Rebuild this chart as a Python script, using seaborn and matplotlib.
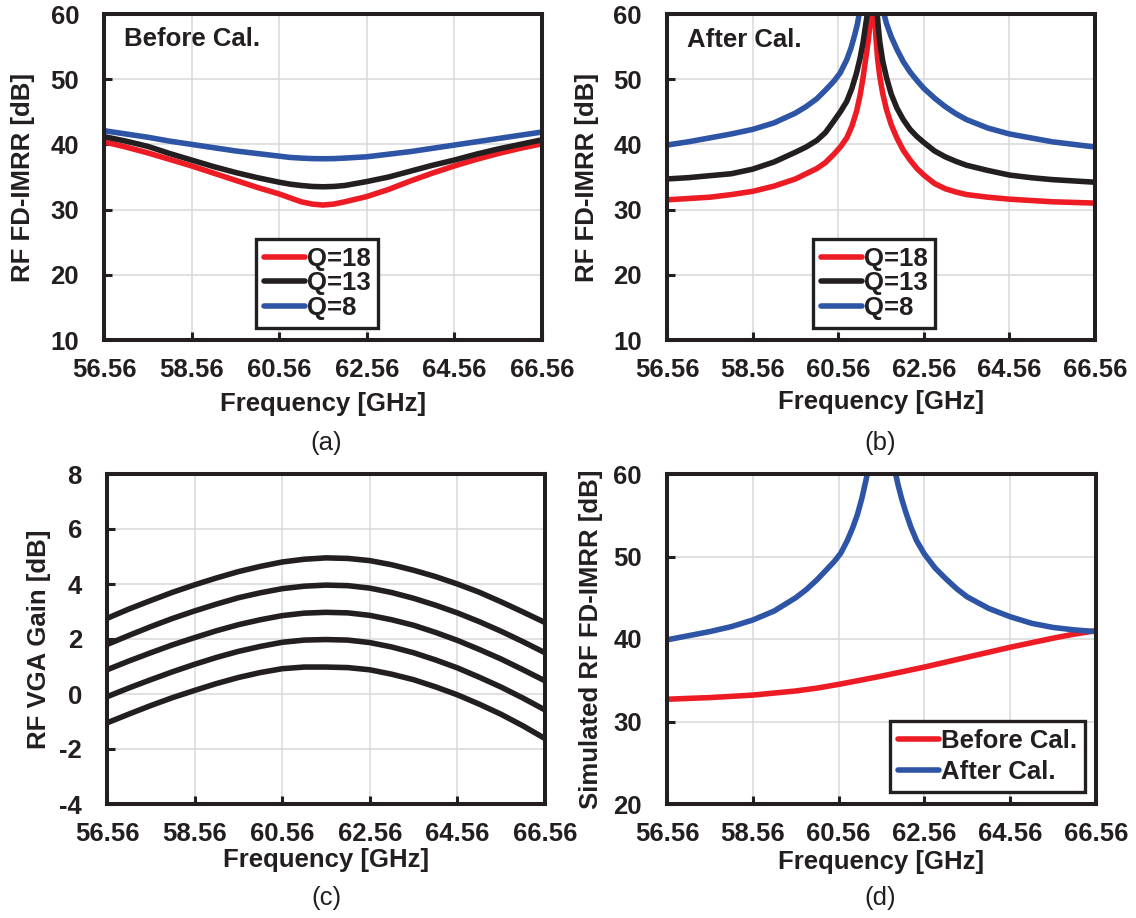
import matplotlib
matplotlib.use("Agg")
import matplotlib.pyplot as plt
import seaborn as sns
from matplotlib.ticker import FixedLocator

# ---------------------------------------------------------------- data
freq_ticks = [56.56, 58.56, 60.56, 62.56, 64.56, 66.56]
freq_tick_labels = ["56.56", "58.56", "60.56", "62.56", "64.56", "66.56"]

# (a) measured FD-IMRR before calibration
freq_a = [56.56, 57.06, 57.56, 58.06, 58.56, 59.06, 59.56, 60.06, 60.56, 60.81, 61.06, 61.31,
          61.56, 61.81, 62.06, 62.56, 63.06, 63.56, 64.06, 64.56, 65.06, 65.56, 66.06, 66.56]
imrr_a_q18 = [40.4, 39.6, 38.7, 37.7, 36.7, 35.6, 34.5, 33.4, 32.4, 31.8, 31.2, 30.85,
              30.7, 30.85, 31.2, 32.0, 33.1, 34.4, 35.6, 36.7, 37.7, 38.6, 39.4, 40.1]
imrr_a_q13 = [41.2, 40.5, 39.7, 38.6, 37.6, 36.6, 35.7, 34.9, 34.2, 33.9, 33.7, 33.55,
              33.5, 33.55, 33.7, 34.3, 35.0, 35.9, 36.8, 37.6, 38.5, 39.3, 40.0, 40.7]
imrr_a_q8 = [42.1, 41.6, 41.1, 40.5, 40.0, 39.5, 39.0, 38.6, 38.2, 38.0, 37.9, 37.82,
             37.8, 37.82, 37.9, 38.1, 38.5, 38.9, 39.4, 39.9, 40.4, 40.9, 41.4, 41.9]

# (b) measured FD-IMRR after calibration
freq_b_q18 = [56.56, 57.06, 57.56, 58.06, 58.56, 59.06, 59.56, 59.81, 60.06, 60.26, 60.46,
              60.61, 60.76, 60.88, 60.99, 61.07, 61.14, 61.20, 61.26, 61.30, 61.33, 61.37,
              61.41, 61.44, 61.48, 61.53, 61.60, 61.69, 61.80, 61.93, 62.08, 62.24, 62.40,
              62.56, 62.81, 63.06, 63.31, 63.56, 64.06, 64.56, 65.06, 65.56, 66.06, 66.56]
imrr_b_q18 = [31.5, 31.7, 31.9, 32.3, 32.8, 33.6, 34.7, 35.5, 36.3, 37.2, 38.5,
              39.6, 41.0, 42.8, 45.1, 47.5, 50.2, 53.0, 55.8, 58.2, 60.0, 70.0,
              60.0, 56.5, 53.2, 50.5, 47.8, 45.3, 43.0, 41.0, 39.1, 37.6, 36.3,
              35.3, 34.0, 33.2, 32.7, 32.3, 31.9, 31.6, 31.4, 31.2, 31.1, 31.0]
freq_b_q13 = [56.56, 57.06, 57.56, 58.06, 58.56, 59.06, 59.56, 59.81, 60.06, 60.26, 60.46,
              60.61, 60.76, 60.88, 60.99, 61.07, 61.14, 61.19, 61.24, 61.37, 61.47, 61.50,
              61.53, 61.60, 61.69, 61.80, 61.93, 62.08, 62.24, 62.40, 62.56, 62.81, 63.06,
              63.31, 63.56, 64.06, 64.56, 65.06, 65.56, 66.06, 66.56]
imrr_b_q13 = [34.7, 34.9, 35.2, 35.5, 36.2, 37.3, 38.8, 39.6, 40.6, 41.8, 43.6,
              45.0, 46.6, 48.6, 51.0, 53.2, 55.6, 57.8, 60.0, 75.0, 60.0, 57.8,
              55.8, 52.8, 50.2, 47.7, 45.6, 43.8, 42.3, 41.2, 40.3, 39.0, 38.1,
              37.4, 36.8, 36.0, 35.3, 34.9, 34.6, 34.4, 34.2]
freq_b_q8 = [56.56, 57.06, 57.56, 58.06, 58.56, 59.06, 59.56, 59.81, 60.06, 60.26, 60.46,
             60.61, 60.76, 60.86, 60.95, 61.01, 61.05, 61.37, 61.63, 61.69, 61.80, 61.93,
             62.08, 62.24, 62.40, 62.56, 62.81, 63.06, 63.31, 63.56, 64.06, 64.56, 65.06,
             65.56, 66.06, 66.56]
imrr_b_q8 = [39.9, 40.4, 41.0, 41.6, 42.3, 43.3, 44.8, 45.8, 47.0, 48.3, 49.7,
             51.0, 53.0, 54.8, 56.9, 58.5, 60.0, 80.0, 60.0, 58.5, 56.5, 54.6,
             52.7, 51.1, 49.8, 48.6, 47.1, 45.8, 44.7, 43.8, 42.5, 41.6, 41.0,
             40.4, 40.0, 39.6]

# (c) RF VGA gain for five gain settings
freq_c = [56.56, 57.06, 57.56, 58.06, 58.56, 59.06, 59.56, 60.06, 60.56, 61.06, 61.56,
          62.06, 62.56, 63.06, 63.56, 64.06, 64.56, 65.06, 65.56, 66.06, 66.56]
gain_c_1 = [2.75, 3.09, 3.40, 3.70, 3.97, 4.22, 4.45, 4.64, 4.80, 4.90, 4.95,
            4.93, 4.85, 4.70, 4.50, 4.27, 4.00, 3.70, 3.35, 2.98, 2.60]
gain_c_2 = [1.80, 2.13, 2.45, 2.75, 3.02, 3.27, 3.50, 3.68, 3.83, 3.92, 3.96,
            3.94, 3.85, 3.69, 3.48, 3.23, 2.95, 2.63, 2.28, 1.90, 1.50]
gain_c_3 = [0.88, 1.20, 1.50, 1.79, 2.05, 2.30, 2.52, 2.70, 2.85, 2.94, 2.97,
            2.95, 2.86, 2.70, 2.50, 2.24, 1.95, 1.62, 1.27, 0.88, 0.48]
gain_c_4 = [-0.10, 0.22, 0.52, 0.81, 1.08, 1.33, 1.55, 1.73, 1.88, 1.96, 1.98,
            1.96, 1.87, 1.71, 1.50, 1.24, 0.95, 0.61, 0.25, -0.15, -0.58]
gain_c_5 = [-1.05, -0.73, -0.42, -0.13, 0.13, 0.38, 0.60, 0.78, 0.92, 0.98, 0.98,
            0.96, 0.88, 0.72, 0.52, 0.26, -0.03, -0.37, -0.74, -1.16, -1.62]

# (d) simulated FD-IMRR before / after calibration
freq_d_before = [56.56, 57.06, 57.56, 58.06, 58.56, 59.06, 59.56, 60.06, 60.56, 61.06, 61.56,
                 62.06, 62.56, 63.06, 63.56, 64.06, 64.56, 65.06, 65.56, 66.06, 66.56]
imrr_d_before = [32.7, 32.8, 32.9, 33.05, 33.2, 33.45, 33.7, 34.05, 34.5, 35.0, 35.5,
                 36.05, 36.6, 37.2, 37.8, 38.4, 39.0, 39.55, 40.1, 40.6, 41.0]
freq_d_after = [56.56, 57.06, 57.56, 58.06, 58.56, 59.06, 59.56, 59.81, 60.06, 60.26, 60.46,
                60.61, 60.76, 60.89, 61.00, 61.10, 61.17, 61.23, 61.56, 61.89, 61.95, 62.03,
                62.13, 62.25, 62.38, 62.56, 62.81, 63.06, 63.31, 63.56, 64.06, 64.56, 65.06,
                65.56, 66.06, 66.56]
imrr_d_after = [39.9, 40.4, 40.9, 41.5, 42.3, 43.4, 45.0, 46.0, 47.2, 48.3, 49.4,
                50.4, 51.9, 53.5, 55.1, 57.0, 58.6, 60.0, 80.0, 60.0, 58.6, 57.0,
                55.3, 53.5, 51.9, 50.3, 48.6, 47.3, 46.1, 45.1, 43.7, 42.7, 41.9,
                41.4, 41.1, 40.9]

q_labels = ["Q=18", "Q=13", "Q=8"]
cal_labels = ["Before Cal.", "After Cal."]

# ---------------------------------------------------------------- style
RED = "#ED1C24"
BLACK = "#231F20"
BLUE = "#2E55A5"
GRID = "#D9D9D9"
LW = 4.0

sns.set_theme(style="whitegrid")
plt.rcParams["font.family"] = ["Liberation Sans", "DejaVu Sans"]
plt.rcParams["axes.unicode_minus"] = False
plt.rcParams["text.color"] = BLACK
plt.rcParams["axes.labelcolor"] = BLACK
plt.rcParams["xtick.color"] = BLACK
plt.rcParams["ytick.color"] = BLACK

FS = 18.5

fig = plt.figure(figsize=(11.36, 9.18), dpi=100)
W, H = 1136.0, 918.0


def make_axes(x0, x1, y0, y1):
    return fig.add_axes([x0 / W, 1 - y1 / H, (x1 - x0) / W, (y1 - y0) / H])


def style(ax, ylim, yticks, ylabel, ylab_x, xlab_y):
    ax.set_xlim(freq_ticks[0], freq_ticks[-1])
    ax.set_ylim(*ylim)
    ax.xaxis.set_major_locator(FixedLocator(freq_ticks))
    ax.set_xticklabels(freq_tick_labels)
    ax.yaxis.set_major_locator(FixedLocator(yticks))
    ax.set_yticklabels([str(v) for v in yticks])
    ax.set_facecolor("white")
    ax.grid(True, color=GRID, linewidth=1.1)
    ax.set_axisbelow(True)
    for s in ax.spines.values():
        s.set_visible(True)
        s.set_color(BLACK)
        s.set_linewidth(2.9)
        s.set_zorder(3)
    ax.tick_params(axis="both", which="major", direction="in", length=5.8, width=2.2,
                   color=BLACK, labelsize=FS, bottom=True, left=True, top=False, right=False)
    ax.tick_params(axis="x", pad=13)
    ax.tick_params(axis="y", pad=18)
    for lab in ax.get_xticklabels() + ax.get_yticklabels():
        lab.set_fontweight("bold")
    ax.set_xlabel("Frequency [GHz]", fontsize=FS, fontweight="bold")
    ax.set_ylabel(ylabel, fontsize=FS, fontweight="bold")
    ax.xaxis.set_label_coords(0.5, xlab_y)
    ax.yaxis.set_label_coords(ylab_x, 0.5)


def legend(ax, x, y, spacing):
    leg = ax.legend(loc="upper left", bbox_to_anchor=(x, y), borderaxespad=0,
                    prop={"size": FS, "weight": "bold"}, frameon=True, fancybox=False,
                    framealpha=1, edgecolor=BLACK, handlelength=1.6, handletextpad=0.08,
                    labelspacing=spacing, borderpad=0.3)
    leg.get_frame().set_linewidth(2.4)
    for line in leg.get_lines():
        line.set_linewidth(LW)
    return leg


# (a)
ax_a = make_axes(104, 542, 14, 340)
for y, c, lab in zip([imrr_a_q18, imrr_a_q13, imrr_a_q8], [RED, BLACK, BLUE], q_labels):
    sns.lineplot(x=freq_a, y=y, ax=ax_a, color=c, linewidth=LW, label=lab)
style(ax_a, (10, 60), [10, 20, 30, 40, 50, 60], "RF FD-IMRR [dB]", -0.158, -0.16)
legend(ax_a, 0.347, 0.310, 0.03)
ax_a.text(0.046, 0.923, "Before Cal.", transform=ax_a.transAxes, fontsize=FS,
          fontweight="bold", ha="left", va="center")

# (b)
ax_b = make_axes(667, 1095, 14, 340)
for fx, y, c, lab in zip([freq_b_q18, freq_b_q13, freq_b_q8],
                         [imrr_b_q18, imrr_b_q13, imrr_b_q8], [RED, BLACK, BLUE], q_labels):
    sns.lineplot(x=fx, y=y, ax=ax_b, color=c, linewidth=LW, label=lab)
style(ax_b, (10, 60), [10, 20, 30, 40, 50, 60], "RF FD-IMRR [dB]", -0.159, -0.153)
legend(ax_b, 0.341, 0.310, 0.03)
ax_b.text(0.047, 0.92, "After Cal.", transform=ax_b.transAxes, fontsize=FS,
          fontweight="bold", ha="left", va="center")

# (c)
ax_c = make_axes(107, 545, 474, 804)
for y in [gain_c_1, gain_c_2, gain_c_3, gain_c_4, gain_c_5]:
    sns.lineplot(x=freq_c, y=y, ax=ax_c, color=BLACK, linewidth=LW)
style(ax_c, (-4, 8), [-4, -2, 0, 2, 4, 6, 8], "RF VGA Gain [dB]", -0.128, -0.133)

# (d)
ax_d = make_axes(667, 1096, 474, 804)
sns.lineplot(x=freq_d_before, y=imrr_d_before, ax=ax_d, color=RED, linewidth=LW,
             label=cal_labels[0])
sns.lineplot(x=freq_d_after, y=imrr_d_after, ax=ax_d, color=BLUE, linewidth=LW,
             label=cal_labels[1])
style(ax_d, (20, 60), [20, 30, 40, 50, 60], "Simulated RF FD-IMRR [dB]", -0.149, -0.139)
legend(ax_d, 0.520, 0.2515, 0.3)

# panel captions
for x, y, t in [(326, 443, "(a)"), (880, 443, "(b)"), (326, 898, "(c)"), (880, 898, "(d)")]:
    fig.text(x / W, 1 - y / H, t, fontsize=FS, ha="center", va="center")

fig.savefig("out.png", dpi=100)
